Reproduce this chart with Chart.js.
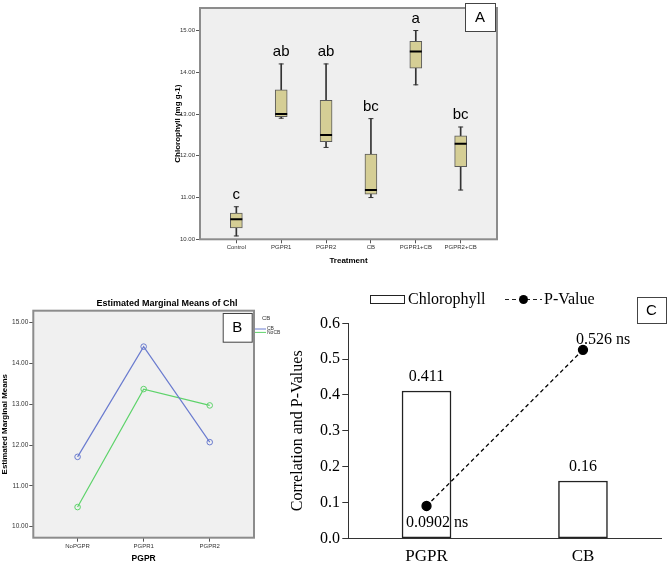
<!DOCTYPE html>
<html>
<head>
<meta charset="utf-8">
<script src="https://cdn.jsdelivr.net/npm/chart.js@4.4.1/dist/chart.umd.min.js"></script>
<style>
  body { margin: 0; background: #fff; }
  #wrap { position: relative; width: 667px; height: 564px; overflow: hidden; }
  canvas { position: absolute; }
</style>
</head>
<body>
<div id="wrap">
  <canvas id="chartA" width="345" height="270" style="left:160px;top:0"></canvas>
  <canvas id="chartB" width="330" height="289" style="left:0;top:275px"></canvas>
  <canvas id="chartC" width="407" height="289" style="left:260px;top:275px"></canvas>
</div>
<script>
// panel A - boxplot of chlorophyll per treatment
const treatments = ['Control', 'PGPR1', 'PGPR2', 'CB', 'PGPR1+CB', 'PGPR2+CB'];
const whiskerLow = [10.08, 12.9, 12.2, 11.0, 13.7, 11.18];
const q1 = [10.27, 12.94, 12.34, 11.08, 14.1, 11.74];
const median = [10.48, 13.0, 12.5, 11.18, 14.5, 12.29];
const q3 = [10.63, 13.58, 13.33, 12.04, 14.74, 12.48];
const whiskerHigh = [10.78, 14.2, 14.2, 12.89, 15.0, 12.69];
const letters = ['c', 'ab', 'ab', 'bc', 'a', 'bc'];
const chlTicks = [10, 11, 12, 13, 14, 15];

// panel B - estimated marginal means
const pgprLevels = ['NoPGPR', 'PGPR1', 'PGPR2'];
const meansCB = [11.71, 14.41, 12.07];
const meansNoCB = [10.48, 13.37, 12.97];
const emmTicks = [10, 11, 12, 13, 14, 15];

// panel C - correlation and p values
const factors = ['PGPR', 'CB'];
const chlorophyll = [0.411, 0.16];
const pValues = [0.0902, 0.526];

Chart.defaults.font.family = '"Liberation Sans", Arial, sans-serif';
Chart.defaults.animation = false;
Chart.defaults.events = [];
Chart.defaults.plugins.legend.display = false;
Chart.defaults.plugins.tooltip.enabled = false;

function panelTag(ctx, x, y, w, h, text) {
  ctx.save();
  ctx.fillStyle = '#fff';
  ctx.fillRect(x, y, w, h);
  ctx.strokeStyle = '#444';
  ctx.lineWidth = 1;
  ctx.strokeRect(x + 0.5, y + 0.5, w, h);
  ctx.fillStyle = '#000';
  ctx.font = '15px "Liberation Sans"';
  ctx.textAlign = 'center';
  ctx.textBaseline = 'middle';
  ctx.fillText(text, x + w / 2, y + h / 2 + 1);
  ctx.restore();
}

function plotBg(color) {
  return function (chart) {
    const {ctx, chartArea: a} = chart;
    ctx.save();
    ctx.fillStyle = color;
    ctx.fillRect(a.left, a.top, a.right - a.left, a.bottom - a.top);
    ctx.restore();
  };
}

function frame(chart) {
  const {ctx, chartArea: a} = chart;
  ctx.save();
  ctx.strokeStyle = '#8c8c8c';
  ctx.lineWidth = 2;
  ctx.strokeRect(a.left, a.top, a.right - a.left, a.bottom - a.top);
  ctx.restore();
}

// ---------- A ----------
const decorA = {
  id: 'decorA',
  beforeDraw: plotBg('#efefef'),
  afterDatasetsDraw(chart) {
    frame(chart);
    const {ctx, scales} = chart;
    ctx.save();
    ctx.fillStyle = '#000';
    ctx.font = '15px "Liberation Sans"';
    ctx.textAlign = 'center';
    ctx.textBaseline = 'middle';
    letters.forEach((t, i) => {
      ctx.fillText(t, scales.x.getPixelForValue(i), scales.y.getPixelForValue(whiskerHigh[i]) - 12);
    });
    ctx.restore();
    panelTag(ctx, 305, 3, 30, 28, 'A');
  }
};

new Chart(document.getElementById('chartA'), {
  type: 'bar',
  data: {
    datasets: [{
      type: 'line',
      showLine: false,
      data: treatments.map((_, i) => ({x: i, y: median[i]})),
      pointStyle: 'line',
      pointRadius: 6,
      pointBorderWidth: 2,
      pointBorderColor: '#000',
      order: 1
    }, {
      type: 'line',
      showLine: false,
      data: treatments.map((_, i) => ({x: i, y: whiskerHigh[i]}))
        .concat(treatments.map((_, i) => ({x: i, y: whiskerLow[i]}))),
      pointStyle: 'line',
      pointRadius: 2.5,
      pointBorderWidth: 1,
      pointBorderColor: '#333',
      order: 1
    }, {
      data: treatments.map((_, i) => ({x: i, y: [q1[i], q3[i]]})),
      backgroundColor: '#d5ce95',
      borderColor: '#5a5a5a',
      borderWidth: 1,
      borderSkipped: false,
      barThickness: 12,
      grouped: false,
      order: 2
    }, {
      data: treatments.map((_, i) => ({x: i, y: [whiskerLow[i], whiskerHigh[i]]})),
      backgroundColor: '#333',
      borderWidth: 0,
      barThickness: 1,
      grouped: false,
      order: 3
    }]
  },
  options: {
    responsive: false,
    layout: {padding: {left: 0, top: 2, right: 8, bottom: 0}},
    scales: {
      x: {
        type: 'linear', min: -0.81, max: 5.81, offset: false,
        afterBuildTicks: s => { s.ticks = treatments.map((_, i) => ({value: i})); },
        afterFit: s => { s.height = 30.7; },
        grid: {offset: false, drawOnChartArea: false, tickLength: 4, color: '#555'},
        border: {display: false},
        ticks: {callback: v => treatments[v], font: {size: 6}, color: '#333', padding: 0, maxRotation: 0, autoSkip: false},
        title: {display: true, text: 'Treatment', color: '#000', font: {size: 8, weight: 'bold'}, padding: {top: 0, bottom: 4}}
      },
      y: {
        min: 10, max: 15.54,
        afterBuildTicks: s => { s.ticks = chlTicks.map(v => ({value: v})); },
        afterFit: s => { s.width = 40; },
        grid: {drawOnChartArea: false, tickLength: 4, color: '#555'},
        border: {display: false},
        ticks: {callback: v => v.toFixed(2), font: {size: 6}, color: '#333', padding: 1},
        title: {display: true, text: 'Chlorophyll (mg g-1)', color: '#000', font: {size: 8, weight: 'bold'}, padding: {top: 13, bottom: 0}}
      }
    }
  },
  plugins: [decorA]
});

// ---------- B ----------
const decorB = {
  id: 'decorB',
  beforeDraw: plotBg('#f0f0f0'),
  afterDraw(chart) {
    frame(chart);
    const ctx = chart.ctx;
    ctx.save();
    ctx.fillStyle = '#000';
    ctx.font = 'bold 9px "Liberation Sans"';
    ctx.textAlign = 'center';
    ctx.textBaseline = 'middle';
    ctx.fillText('Estimated Marginal Means of Chl', 167, 28.3);
    ctx.textAlign = 'left';
    ctx.fillStyle = '#333';
    ctx.font = '6px "Liberation Sans"';
    ctx.fillText('CB', 262, 43);
    ctx.font = '5px "Liberation Sans"';
    chart.data.datasets.forEach((ds, i) => {
      const y = 54 + i * 3.4;
      ctx.strokeStyle = ds.borderColor;
      ctx.lineWidth = 1;
      ctx.beginPath();
      ctx.moveTo(255, y);
      ctx.lineTo(266, y);
      ctx.stroke();
      ctx.fillText(ds.label, 267, y);
    });
    ctx.restore();
    panelTag(ctx, 222.7, 38, 29, 28.7, 'B');
  }
};

new Chart(document.getElementById('chartB'), {
  type: 'line',
  data: {
    datasets: [{
      label: 'CB',
      data: pgprLevels.map((_, i) => ({x: i, y: meansCB[i]})),
      borderColor: '#6b7ccf',
      borderWidth: 1.2,
      pointRadius: 2.8,
      pointBorderWidth: 1,
      pointBackgroundColor: 'rgba(0,0,0,0)',
      pointBorderColor: '#6b7ccf'
    }, {
      label: 'NoCB',
      data: pgprLevels.map((_, i) => ({x: i, y: meansNoCB[i]})),
      borderColor: '#5ed36b',
      borderWidth: 1.2,
      pointRadius: 2.8,
      pointBorderWidth: 1,
      pointBackgroundColor: 'rgba(0,0,0,0)',
      pointBorderColor: '#5ed36b'
    }]
  },
  options: {
    responsive: false,
    layout: {padding: {left: 0, top: 35.7, right: 76, bottom: 0}},
    scales: {
      x: {
        type: 'linear', min: -0.67, max: 2.67,
        afterBuildTicks: s => { s.ticks = pgprLevels.map((_, i) => ({value: i})); },
        afterFit: s => { s.height = 26.3; },
        grid: {drawOnChartArea: false, tickLength: 4, color: '#555'},
        border: {display: false},
        ticks: {callback: v => pgprLevels[v], font: {size: 6}, color: '#333', padding: 1, maxRotation: 0, autoSkip: false},
        title: {display: true, text: 'PGPR', color: '#000', font: {size: 8.5, weight: 'bold'}, padding: {top: 0, bottom: 0.6}}
      },
      y: {
        min: 9.73, max: 15.29,
        afterBuildTicks: s => { s.ticks = emmTicks.map(v => ({value: v})); },
        afterFit: s => { s.width = 33.3; },
        grid: {drawOnChartArea: false, tickLength: 4, color: '#555'},
        border: {display: false},
        ticks: {callback: v => v.toFixed(2), font: {size: 6.5}, color: '#333', padding: 1},
        title: {display: true, text: 'Estimated Marginal Means', color: '#000', font: {size: 8, weight: 'bold'}, padding: {top: 0, bottom: 0}}
      }
    }
  },
  plugins: [decorB]
});

// ---------- C ----------
const serif = '"Liberation Serif", "Times New Roman", serif';
const decorC = {
  id: 'decorC',
  afterDatasetsDraw(chart) {
    const ctx = chart.ctx;
    const lineMeta = chart.getDatasetMeta(0);
    const barMeta = chart.getDatasetMeta(1);
    ctx.save();
    ctx.fillStyle = '#000';
    ctx.font = '16px ' + serif;
    ctx.textBaseline = 'middle';
    ctx.textAlign = 'center';
    barMeta.data.forEach((el, i) => ctx.fillText(String(chlorophyll[i]), el.x, el.y - 14));
    ctx.textAlign = 'left';
    const p0 = lineMeta.data[0], p1 = lineMeta.data[1];
    ctx.fillText(pValues[0] + ' ns', p0.x - 20.6, p0.y + 17);
    ctx.fillText(pValues[1] + ' ns', p1.x - 7, p1.y - 10);

    // legend
    const ds = chart.data.datasets;
    ctx.strokeStyle = '#222';
    ctx.lineWidth = 1;
    ctx.strokeRect(110.5, 20.5, 34, 8);
    ctx.fillText(ds[1].label, 148, 24.5);
    ctx.beginPath();
    ctx.setLineDash([4, 3]);
    ctx.moveTo(245, 24.5);
    ctx.lineTo(282, 24.5);
    ctx.stroke();
    ctx.setLineDash([]);
    ctx.beginPath();
    ctx.arc(263.5, 24.5, 4.5, 0, Math.PI * 2);
    ctx.fill();
    ctx.fillText(ds[0].label, 284, 24.5);
    ctx.restore();
    panelTag(ctx, 377, 22, 29, 26, 'C');
  }
};

new Chart(document.getElementById('chartC'), {
  type: 'bar',
  data: {
    labels: factors,
    datasets: [{
      type: 'line',
      label: 'P-Value',
      data: pValues,
      borderColor: '#000',
      borderWidth: 1.3,
      borderDash: [4, 3],
      pointRadius: 4.5,
      pointBackgroundColor: '#000',
      pointBorderColor: '#000',
      order: 0
    }, {
      label: 'Chlorophyll',
      data: chlorophyll,
      backgroundColor: '#fff',
      borderColor: '#222',
      borderWidth: 1.5,
      borderSkipped: false,
      barThickness: 49,
      order: 1
    }]
  },
  options: {
    responsive: false,
    layout: {padding: {left: 0, top: 48.3, right: 4, bottom: 0}},
    scales: {
      x: {
        afterFit: s => { s.height = 25.7; },
        grid: {display: false, drawTicks: false},
        border: {display: true, color: '#333', width: 1},
        ticks: {font: {size: 17, family: serif}, color: '#000', padding: 8.2}
      },
      y: {
        min: 0, max: 0.6,
        afterFit: s => { s.width = 88.3; },
        grid: {drawOnChartArea: false, tickLength: 6, color: '#333'},
        border: {display: true, color: '#333', width: 1},
        ticks: {stepSize: 0.1, callback: v => v.toFixed(1), font: {size: 16, family: serif}, color: '#000', padding: 2.3},
        title: {display: true, text: 'Correlation and P-Values', color: '#000', font: {size: 16, family: serif}, padding: {top: 28.4, bottom: 0}}
      }
    }
  },
  plugins: [decorC]
});
</script>
</body>
</html>
